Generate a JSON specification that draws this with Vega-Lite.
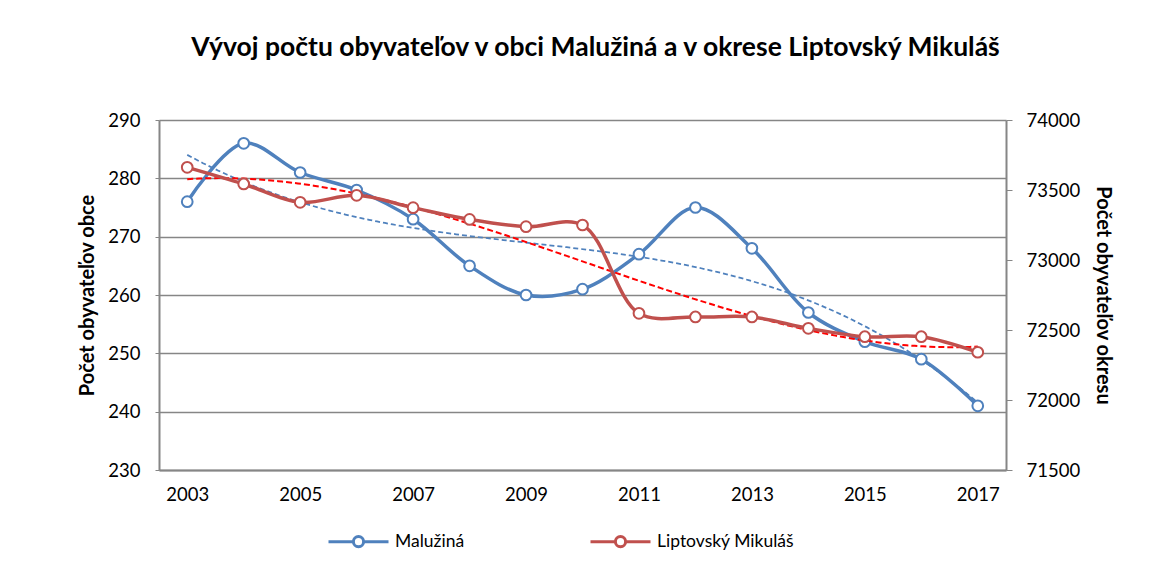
{
  "$schema": "https://vega.github.io/schema/vega-lite/v6.json",
  "width": 847,
  "height": 350,
  "autosize": {"type": "none"},
  "padding": {"left": 159, "top": 120, "right": 161, "bottom": 100},
  "background": "white",
  "title": {
    "text": "Vývoj počtu obyvateľov v obci Malužiná a v okrese Liptovský Mikuláš",
    "font": "Lato",
    "fontSize": 26.5,
    "fontWeight": "bold",
    "color": "#000000",
    "anchor": "middle",
    "dx": 13,
    "offset": 50
  },
  "config": {
    "view": {"stroke": null},
    "font": "Lato"
  },
  "data": {
    "values": [
      {"year": 2003, "obec": 276, "okres": 73662},
      {"year": 2004, "obec": 286, "okres": 73543},
      {"year": 2005, "obec": 281, "okres": 73412},
      {"year": 2006, "obec": 278, "okres": 73462},
      {"year": 2007, "obec": 273, "okres": 73374},
      {"year": 2008, "obec": 265, "okres": 73290},
      {"year": 2009, "obec": 260, "okres": 73238},
      {"year": 2010, "obec": 261, "okres": 73250},
      {"year": 2011, "obec": 267, "okres": 72619},
      {"year": 2012, "obec": 275, "okres": 72593},
      {"year": 2013, "obec": 268, "okres": 72593},
      {"year": 2014, "obec": 257, "okres": 72512},
      {"year": 2015, "obec": 252, "okres": 72452},
      {"year": 2016, "obec": 249, "okres": 72452},
      {"year": 2017, "obec": 241, "okres": 72341}
    ]
  },
  "encoding": {
    "x": {
      "field": "year",
      "type": "quantitative",
      "scale": {"domain": [2002.5, 2017.5], "nice": false, "zero": false},
      "axis": {
        "values": [2003, 2005, 2007, 2009, 2011, 2013, 2015, 2017],
        "format": "d",
        "title": null,
        "grid": false,
        "ticks": false,
        "labelPadding": 15,
        "labelFontSize": 18.5,
        "labelFont": "Lato",
        "labelColor": "#000000",
        "domainColor": "#868686",
        "domainWidth": 2
      }
    }
  },
  "layer": [
    {
      "encoding": {
        "y": {
          "field": "obec",
          "type": "quantitative",
          "scale": {"domain": [230, 290], "nice": false, "zero": false},
          "axis": {
            "values": [230, 240, 250, 260, 270, 280, 290],
            "title": "Počet obyvateľov obce",
            "titleFont": "Lato",
            "titleFontSize": 20,
            "titleFontWeight": "bold",
            "titleColor": "#000000",
            "titlePadding": 10,
            "labelFontSize": 18.5,
            "labelFont": "Lato",
            "labelColor": "#000000",
            "labelPadding": 15,
            "tickSize": 4,
            "tickColor": "#868686",
            "domainColor": "#868686",
            "domainWidth": 2,
            "grid": true,
            "gridColor": "#868686",
            "gridWidth": 1.6
          }
        }
      },
      "layer": [
        {
          "transform": [{"regression": "obec", "on": "year", "method": "poly", "order": 3}],
          "mark": {"type": "line", "color": "#4F81BD", "strokeDash": [5, 3], "strokeWidth": 1.75}
        },
        {
          "mark": {"type": "line", "interpolate": "catmull-rom", "strokeWidth": 3.5},
          "encoding": {
            "color": {
              "datum": "Malužiná",
              "type": "nominal",
              "scale": {"domain": ["Malužiná", "Liptovský Mikuláš"], "range": ["#4F81BD", "#C0504D"]},
              "legend": {
                "title": null,
                "orient": "none",
                "direction": "horizontal",
                "legendX": 168,
                "legendY": 390,
                "symbolType": "M-1,0H-0.17M0.17,0H1M-0.17,0A0.17,0.17,0,1,1,0.17,0A0.17,0.17,0,1,1,-0.17,0Z",
                "symbolSize": 3600,
                "symbolStrokeWidth": 3,
                "symbolFillColor": "white",
                "labelFontSize": 17.5,
                "labelFont": "Lato",
                "labelColor": "#000000",
                "labelOffset": 5,
                "columnPadding": 119
              }
            }
          }
        },
        {
          "mark": {"type": "point", "shape": "circle", "filled": false, "fill": "white", "fillOpacity": 1, "opacity": 1, "size": 115, "strokeWidth": 2},
          "encoding": {"color": {"datum": "Malužiná", "type": "nominal"}}
        }
      ]
    },
    {
      "encoding": {
        "y": {
          "field": "okres",
          "type": "quantitative",
          "scale": {"domain": [71500, 74000], "nice": false, "zero": false},
          "axis": {
            "orient": "right",
            "values": [71500, 72000, 72500, 73000, 73500, 74000],
            "format": "d",
            "title": "Počet obyvateľov okresu",
            "titleFont": "Lato",
            "titleFontSize": 20,
            "titleFontWeight": "bold",
            "titleColor": "#000000",
            "titlePadding": 13,
            "labelFontSize": 18.5,
            "labelFont": "Lato",
            "labelColor": "#000000",
            "labelPadding": 14,
            "tickSize": 6,
            "tickColor": "#868686",
            "domainColor": "#868686",
            "domainWidth": 2,
            "grid": false
          }
        }
      },
      "layer": [
        {
          "transform": [{"regression": "okres", "on": "year", "method": "poly", "order": 3}],
          "mark": {"type": "line", "color": "#FF0000", "strokeDash": [6, 3], "strokeWidth": 2}
        },
        {
          "mark": {"type": "line", "interpolate": "catmull-rom", "strokeWidth": 3.5},
          "encoding": {"color": {"datum": "Liptovský Mikuláš", "type": "nominal"}}
        },
        {
          "mark": {"type": "point", "shape": "circle", "filled": false, "fill": "white", "fillOpacity": 1, "opacity": 1, "size": 115, "strokeWidth": 2},
          "encoding": {"color": {"datum": "Liptovský Mikuláš", "type": "nominal"}}
        }
      ]
    }
  ],
  "resolve": {"scale": {"y": "independent"}}
}
